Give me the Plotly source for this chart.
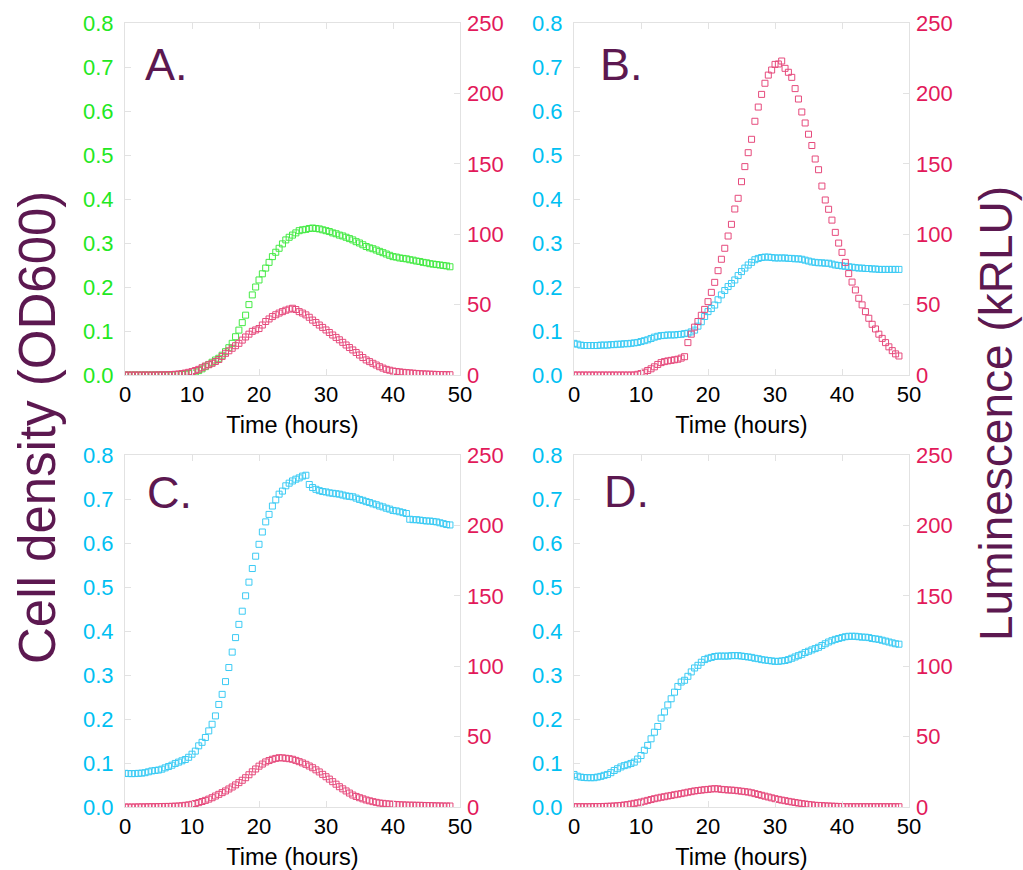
import plotly.graph_objects as go

# ---------------- data ----------------
time_h = [0.0, 0.5, 1.0, 1.5, 2.0, 2.5, 3.0, 3.5, 4.0, 4.5, 5.0, 5.5, 6.0, 6.5, 7.0, 7.5, 8.0, 8.5, 9.0, 9.5,
          10.0, 10.5, 11.0, 11.5, 12.0, 12.5, 13.0, 13.5, 14.0, 14.5, 15.0, 15.5, 16.0, 16.5, 17.0, 17.5, 18.0, 18.5, 19.0, 19.5,
          20.0, 20.5, 21.0, 21.5, 22.0, 22.5, 23.0, 23.5, 24.0, 24.5, 25.0, 25.5, 26.0, 26.5, 27.0, 27.5, 28.0, 28.5, 29.0, 29.5,
          30.0, 30.5, 31.0, 31.5, 32.0, 32.5, 33.0, 33.5, 34.0, 34.5, 35.0, 35.5, 36.0, 36.5, 37.0, 37.5, 38.0, 38.5, 39.0, 39.5,
          40.0, 40.5, 41.0, 41.5, 42.0, 42.5, 43.0, 43.5, 44.0, 44.5, 45.0, 45.5, 46.0, 46.5, 47.0, 47.5, 48.0, 48.5]

od_A = [0.000, 0.000, 0.000, 0.000, 0.000, 0.000, 0.000, 0.000, 0.000, 0.000, 0.000, 0.000, 0.000, 0.000, 0.000, 0.001, 0.001, 0.001, 0.002, 0.003,
        0.004, 0.007, 0.010, 0.014, 0.019, 0.024, 0.029, 0.034, 0.038, 0.045, 0.053, 0.062, 0.072, 0.087, 0.102, 0.119, 0.136, 0.160, 0.182, 0.200,
        0.216, 0.230, 0.243, 0.256, 0.269, 0.279, 0.288, 0.298, 0.307, 0.313, 0.318, 0.323, 0.328, 0.330, 0.331, 0.333, 0.334, 0.333, 0.332, 0.330,
        0.328, 0.326, 0.323, 0.321, 0.318, 0.316, 0.313, 0.310, 0.307, 0.303, 0.300, 0.296, 0.292, 0.289, 0.287, 0.284, 0.281, 0.278, 0.275, 0.272,
        0.269, 0.268, 0.266, 0.265, 0.264, 0.262, 0.261, 0.259, 0.258, 0.256, 0.255, 0.253, 0.252, 0.251, 0.250, 0.249, 0.248, 0.246]
lum_A = [0.0, 0.0, 0.0, 0.0, 0.0, 0.0, 0.0, 0.0, 0.0, 0.0, 0.1, 0.1, 0.1, 0.2, 0.3, 0.5, 0.7, 1.0, 1.4, 1.9,
         2.4, 3.2, 4.0, 5.2, 6.4, 7.3, 8.3, 9.6, 11.0, 13.2, 15.4, 17.2, 19.0, 20.8, 22.5, 24.8, 27.0, 29.0, 31.0, 32.0,
         33.0, 35.5, 38.0, 39.8, 41.5, 42.8, 44.0, 45.0, 46.0, 46.8, 47.4, 46.5, 45.0, 44.0, 42.7, 41.0, 39.0, 37.3, 35.5, 33.8,
         32.0, 30.2, 28.4, 26.7, 25.0, 23.2, 21.3, 19.5, 17.8, 16.0, 14.2, 12.4, 10.7, 9.5, 8.3, 7.1, 5.9, 4.9, 4.0, 3.4,
         2.8, 2.5, 2.2, 1.9, 1.7, 1.5, 1.3, 1.1, 0.9, 0.8, 0.7, 0.6, 0.5, 0.4, 0.3, 0.3, 0.2, 0.2]

od_B = [0.072, 0.070, 0.068, 0.067, 0.067, 0.067, 0.067, 0.067, 0.068, 0.068, 0.068, 0.069, 0.069, 0.070, 0.070, 0.071, 0.071, 0.072, 0.073, 0.074,
        0.076, 0.078, 0.080, 0.083, 0.086, 0.088, 0.0895, 0.090, 0.091, 0.091, 0.091, 0.092, 0.0925, 0.094, 0.095, 0.098, 0.102, 0.111, 0.121, 0.133,
        0.144, 0.151, 0.159, 0.171, 0.182, 0.192, 0.201, 0.208, 0.216, 0.226, 0.235, 0.243, 0.250, 0.256, 0.262, 0.265, 0.267, 0.268, 0.268, 0.267,
        0.266, 0.266, 0.266, 0.266, 0.265, 0.265, 0.264, 0.264, 0.263, 0.261, 0.259, 0.257, 0.256, 0.255, 0.255, 0.254, 0.254, 0.252, 0.250, 0.249,
        0.248, 0.247, 0.246, 0.245, 0.244, 0.243, 0.243, 0.242, 0.242, 0.241, 0.241, 0.240, 0.240, 0.240, 0.240, 0.240, 0.240, 0.240]
lum_B = [0.0, 0.0, 0.0, 0.0, 0.0, 0.0, 0.0, 0.0, 0.0, 0.0, 0.0, 0.0, 0.0, 0.0, 0.0, 0.0, 0.0, 0.0, 0.0, 0.5,
         1.0, 2.0, 3.2, 4.4, 5.8, 7.5, 8.8, 9.5, 10.0, 10.4, 10.8, 11.2, 12.0, 13.0, 23.0, 29.0, 34.0, 38.0, 42.4, 46.6,
         52.1, 58.7, 65.8, 74.1, 82.2, 90.0, 98.7, 107.0, 117.9, 125.5, 137.3, 148.0, 157.9, 167.4, 180.2, 190.3, 199.3, 207.2, 213.0, 216.6,
         220.6, 220.9, 223.0, 217.8, 215.0, 211.4, 203.4, 196.0, 186.8, 179.0, 171.0, 163.0, 153.4, 145.8, 134.2, 124.3, 117.7, 110.0, 101.3, 93.7,
         87.1, 80.0, 72.0, 66.0, 60.4, 54.5, 49.8, 45.0, 40.3, 36.0, 32.7, 29.0, 26.0, 23.0, 20.0, 17.3, 15.0, 13.5]

od_C = [0.0765, 0.076, 0.0758, 0.076, 0.0765, 0.077, 0.078, 0.080, 0.082, 0.083, 0.084, 0.086, 0.089, 0.092, 0.095, 0.099, 0.102, 0.105, 0.108, 0.113,
        0.120, 0.127, 0.139, 0.147, 0.158, 0.173, 0.188, 0.207, 0.233, 0.256, 0.285, 0.317, 0.352, 0.385, 0.415, 0.445, 0.480, 0.511, 0.542, 0.570,
        0.597, 0.625, 0.648, 0.665, 0.684, 0.698, 0.711, 0.718, 0.730, 0.736, 0.741, 0.745, 0.748, 0.752, 0.754, 0.733, 0.726, 0.722, 0.719, 0.717,
        0.716, 0.714, 0.713, 0.712, 0.711, 0.709, 0.707, 0.706, 0.705, 0.702, 0.699, 0.697, 0.694, 0.692, 0.689, 0.687, 0.684, 0.682, 0.679, 0.677,
        0.674, 0.673, 0.671, 0.669, 0.667, 0.654, 0.653, 0.653, 0.652, 0.651, 0.650, 0.650, 0.649, 0.648, 0.646, 0.644, 0.642, 0.641]
lum_C = [0.0, 0.0, 0.0, 0.0, 0.1, 0.1, 0.1, 0.2, 0.2, 0.2, 0.3, 0.3, 0.4, 0.4, 0.5, 0.6, 0.7, 0.9, 1.2, 1.5,
         1.9, 2.5, 3.1, 3.9, 4.7, 5.6, 6.6, 7.8, 9.0, 10.2, 11.4, 12.8, 14.2, 15.7, 17.3, 19.0, 20.8, 22.9, 25.0, 27.0,
         29.0, 30.5, 32.0, 33.0, 33.9, 34.5, 35.0, 34.9, 34.6, 34.3, 33.9, 33.1, 32.2, 31.3, 30.3, 29.1, 27.9, 26.4, 24.9, 23.2,
         21.5, 19.8, 18.0, 16.2, 14.4, 12.9, 11.4, 9.9, 8.5, 7.5, 6.6, 5.8, 5.0, 4.4, 3.8, 3.3, 2.8, 2.6, 2.3, 2.1,
         1.9, 1.8, 1.6, 1.5, 1.4, 1.3, 1.3, 1.2, 1.2, 1.1, 1.0, 1.0, 0.9, 0.8, 0.8, 0.7, 0.7, 0.7]

od_D = [0.074, 0.070, 0.068, 0.067, 0.0666, 0.0666, 0.0666, 0.068, 0.0696, 0.072, 0.074, 0.078, 0.083, 0.087, 0.091, 0.094, 0.096, 0.099, 0.102, 0.109,
        0.117, 0.129, 0.140, 0.155, 0.170, 0.183, 0.202, 0.216, 0.232, 0.246, 0.261, 0.274, 0.284, 0.288, 0.297, 0.307, 0.316, 0.322, 0.329, 0.335,
        0.338, 0.340, 0.342, 0.343, 0.343, 0.343, 0.343, 0.344, 0.344, 0.344, 0.343, 0.342, 0.341, 0.340, 0.338, 0.337, 0.335, 0.334, 0.333, 0.332,
        0.331, 0.331, 0.332, 0.333, 0.335, 0.338, 0.341, 0.344, 0.347, 0.351, 0.354, 0.357, 0.360, 0.363, 0.367, 0.371, 0.375, 0.378, 0.381, 0.383,
        0.385, 0.387, 0.388, 0.388, 0.388, 0.387, 0.386, 0.386, 0.385, 0.383, 0.382, 0.381, 0.379, 0.377, 0.375, 0.373, 0.371, 0.370]
lum_D = [0.2, 0.2, 0.2, 0.2, 0.2, 0.2, 0.3, 0.3, 0.3, 0.4, 0.5, 0.6, 0.7, 0.9, 1.1, 1.4, 1.7, 2.1, 2.6, 3.0,
         3.5, 4.1, 4.7, 5.3, 5.9, 6.4, 6.9, 7.3, 7.8, 8.2, 8.7, 9.1, 9.5, 10.0, 10.5, 10.9, 11.4, 11.7, 12.0, 12.3,
         12.5, 12.8, 13.0, 12.9, 12.5, 12.3, 12.1, 12.0, 11.8, 11.5, 11.2, 10.9, 10.6, 10.1, 9.5, 8.9, 8.3, 7.7, 7.1, 6.5,
         5.9, 5.4, 4.9, 4.5, 4.0, 3.6, 3.2, 2.8, 2.4, 2.1, 1.8, 1.5, 1.2, 1.1, 1.0, 0.8, 0.7, 0.6, 0.5, 0.4,
         0.3, 0.2, 0.2, 0.2, 0.2, 0.2, 0.2, 0.2, 0.2, 0.2, 0.2, 0.2, 0.2, 0.2, 0.2, 0.2, 0.2, 0.2]

panel_labels = ["A.", "B.", "C.", "D."]
x_ticks = [0, 10, 20, 30, 40, 50]
od_ticks = [0.0, 0.1, 0.2, 0.3, 0.4, 0.5, 0.6, 0.7, 0.8]
lum_ticks = [0, 50, 100, 150, 200, 250]

# ---------------- styling ----------------
FONT = "Arial, Liberation Sans, Helvetica, sans-serif"
PURPLE = "#5c1850"
GREEN_T, GREEN_M = "#22e822", "#44ea44"
CYAN_T, CYAN_M = "#00c0f2", "#3ccbf4"
RED_T, RED_M = "#e2195a", "#e64a7c"
FRAME = "#e2e2e2"

W, H = 1023, 870
def px_x(v):
    return v / W
def px_y(v):
    return 1 - v / H

panels = [
    dict(label=panel_labels[0], od=od_A, lum=lum_A, ct=GREEN_T, cm=GREEN_M, dx=(125, 460), dy=(23, 375), lab=(143, 64)),
    dict(label=panel_labels[1], od=od_B, lum=lum_B, ct=CYAN_T, cm=CYAN_M, dx=(574, 909), dy=(23, 375), lab=(598, 64)),
    dict(label=panel_labels[2], od=od_C, lum=lum_C, ct=CYAN_T, cm=CYAN_M, dx=(125, 460), dy=(455, 807), lab=(145, 492)),
    dict(label=panel_labels[3], od=od_D, lum=lum_D, ct=CYAN_T, cm=CYAN_M, dx=(574, 909), dy=(455, 807), lab=(602, 491)),
]

fig = go.Figure()
layout = {}
annotations = []
for i, p in enumerate(panels):
    n = i + 1
    xa = "x" if n == 1 else f"x{n}"
    xkey = "xaxis" if n == 1 else f"xaxis{n}"
    yl, yr = 2 * i + 1, 2 * i + 2
    yl_ref = "y" if yl == 1 else f"y{yl}"
    yr_ref = f"y{yr}"
    ylkey = "yaxis" if yl == 1 else f"yaxis{yl}"
    yrkey = f"yaxis{yr}"

    fig.add_trace(go.Scatter(
        x=time_h, y=p["od"], xaxis=xa, yaxis=yl_ref, mode="markers", showlegend=False,
        marker=dict(symbol="square-open", size=6, color=p["cm"], line=dict(width=1, color=p["cm"]))))
    fig.add_trace(go.Scatter(
        x=time_h, y=p["lum"], xaxis=xa, yaxis=yr_ref, mode="markers", showlegend=False,
        marker=dict(symbol="square-open", size=6, color=RED_M, line=dict(width=1, color=RED_M))))

    dom_x = [px_x(p["dx"][0]), px_x(p["dx"][1])]
    dom_y = [px_y(p["dy"][1]), px_y(p["dy"][0])]

    layout[xkey] = dict(
        domain=dom_x, anchor=yl_ref, range=[0, 50], tickvals=x_ticks,
        showline=True, linecolor=FRAME, linewidth=1, mirror="ticks",
        ticks="inside", ticklen=6, tickcolor=FRAME, showgrid=False, zeroline=False,
        tickfont=dict(family=FONT, size=22, color="black"), automargin=False,
        title=dict(text="Time (hours)", font=dict(family=FONT, size=23.5, color="black"), standoff=10),
    )
    layout[ylkey] = dict(
        domain=dom_y, anchor=xa, range=[0, 0.8], tickvals=od_ticks, tickformat=".1f",
        showline=True, linecolor=FRAME, linewidth=1, mirror=True,
        ticks="inside", ticklen=6, tickcolor=FRAME, showgrid=False, zeroline=False,
        tickfont=dict(family=FONT, size=22, color=p["ct"]), automargin=False,
        ticklabelstandoff=6,
    )
    layout[yrkey] = dict(
        anchor=xa, overlaying=yl_ref, side="right", range=[0, 250], tickvals=lum_ticks,
        showline=False, ticks="inside", ticklen=6, tickcolor=FRAME, showgrid=False, zeroline=False,
        tickfont=dict(family=FONT, size=22, color=RED_T), automargin=False,
        ticklabelstandoff=6,
    )
    annotations.append(dict(
        text=p["label"], xref="paper", yref="paper", x=px_x(p["lab"][0]), y=px_y(p["lab"][1]),
        xanchor="left", yanchor="middle", showarrow=False,
        font=dict(family=FONT, size=45, color=PURPLE)))

annotations.append(dict(
    text="Cell density (OD600)", xref="paper", yref="paper", x=px_x(37), y=px_y(428),
    xanchor="center", yanchor="middle", textangle=-90, showarrow=False,
    font=dict(family=FONT, size=51, color=PURPLE)))
annotations.append(dict(
    text="Luminescence (kRLU)", xref="paper", yref="paper", x=px_x(996), y=px_y(414),
    xanchor="center", yanchor="middle", textangle=-90, showarrow=False,
    font=dict(family=FONT, size=46, color=PURPLE)))

fig.update_layout(
    template="none", width=W, height=H, autosize=False,
    margin=dict(l=0, r=0, t=0, b=0, pad=0),
    paper_bgcolor="white", plot_bgcolor="white",
    font=dict(family=FONT), annotations=annotations, showlegend=False,
    **layout)

fig.write_html("out.html", config={"displayModeBar": False},
               post_script="document.body.style.margin='0px';document.body.style.overflow='hidden';")
